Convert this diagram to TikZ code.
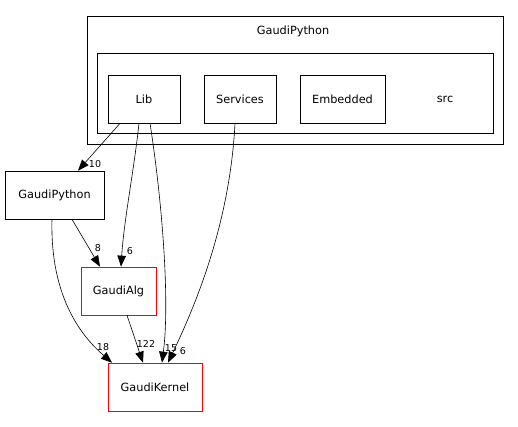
\documentclass[tikz,border=0pt]{standalone}
\usepackage{fontspec}
\setmainfont{DejaVu Sans}
\usetikzlibrary{arrows.meta}
\begin{document}
\begin{tikzpicture}[x=1pt,y=-1pt,
  box/.style={draw=black,line width=0.7pt,rectangle,inner sep=0pt,font=\fontsize{11.3}{13}\selectfont},
  redbox/.style={box,draw=red},
  cluster/.style={draw=black,line width=0.7pt},
  lab/.style={font=\fontsize{11.3}{13}\selectfont},
  edge/.style={line width=0.6pt,-{Triangle[length=11pt,width=8.5pt]}},
  elab/.style={font=\fontsize{9.5}{11}\selectfont,inner sep=0pt}]
\useasboundingbox (0,0) rectangle (518,426);
\fill[white] (0,0) rectangle (518,426);
% clusters
\draw[cluster] (87,16) rectangle (503,144);
\node[lab] (outerlab) at (293,31) {GaudiPython};
\draw[cluster] (97,53) rectangle (493,133);
\node[lab] (srclab) at (445,99) {src};
% nodes
\node[box,minimum width=72,minimum height=48] (Lib) at (144,99) {Lib};
\node[box,minimum width=72,minimum height=48] (Services) at (240,99) {Services};
\node[box,minimum width=85,minimum height=48] (Embedded) at (342.5,99) {Embedded};
\node[box,minimum width=99,minimum height=48] (GP) at (54.5,195) {GaudiPython};
\node[redbox,minimum width=75,minimum height=48] (Alg) at (118.5,291) {GaudiAlg};
\node[redbox,minimum width=94,minimum height=48] (Kernel) at (155,387) {GaudiKernel};
% edges
\draw[edge] ([xshift=-24]Lib.south) -- ([xshift=23.5]GP.north);
\node[elab] at (95,164) {10};
\draw[edge] ([xshift=-5]Lib.south) .. controls (134,170) and (124,220) .. ([xshift=2.5]Alg.north);
\node[elab] at (130,251) {6};
\draw[edge] ([xshift=6]Lib.south) .. controls (162,200) and (170,300) .. ([xshift=7]Kernel.north);
\node[elab] at (171,348) {15};
\draw[edge] ([xshift=-5]Services.south) .. controls (230,220) and (198,300) .. ([xshift=13]Kernel.north);
\node[elab] at (183,351) {6};
\draw[edge] ([xshift=17.5]GP.south) -- ([xshift=-18.5]Alg.north);
\node[elab] at (98,248) {8};
\draw[edge] ([xshift=-2.5]GP.south) .. controls (50,295) and (80,335) .. ([xshift=-43]Kernel.north);
\node[elab] at (103,347) {18};
\draw[edge] ([xshift=8.5]Alg.south) -- ([xshift=-12]Kernel.north);
\node[elab] at (146,344) {122};
\end{tikzpicture}
\end{document}
